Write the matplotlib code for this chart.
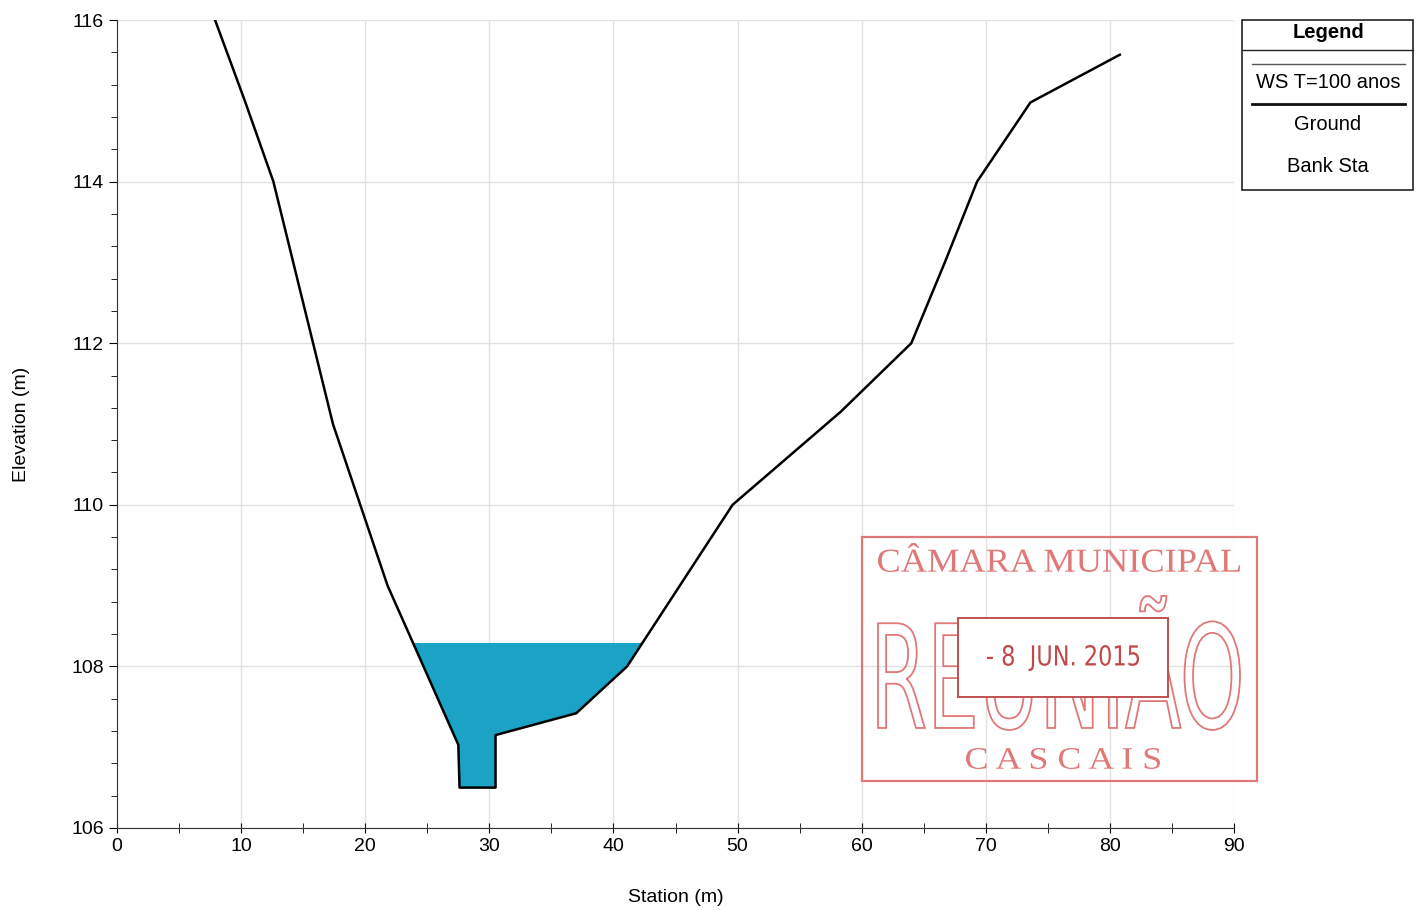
import numpy as np
import matplotlib
matplotlib.use("Agg")
import matplotlib.pyplot as plt
from matplotlib.patches import Rectangle, PathPatch
from matplotlib.textpath import TextPath
from matplotlib.font_manager import FontProperties
from matplotlib.transforms import Affine2D

plt.rcParams['font.family'] = ['Liberation Sans', 'DejaVu Sans']

# ground profile
station = [7.9, 10.3, 12.6, 17.4, 21.8, 27.5, 27.6, 30.5, 30.5, 37.0, 41.1,
           49.6, 58.3, 64.0, 66.7, 69.3, 73.6, 80.8]
elevation = [116.0, 115.0, 114.0, 111.0, 109.0, 107.03, 106.5, 106.5, 107.15,
             107.42, 108.0, 110.0, 111.15, 112.0, 113.0, 114.0, 114.98, 115.57]
ws_elev = 108.29  # WS T=100 anos

legend_items = ["WS T=100 anos", "Ground", "Bank Sta"]

W, H = 1423, 910


def fx(px):
    return px / W


def fy(py):
    return 1 - py / H


def water_polygon(x, z, ws):
    """Polygon of the wetted area below the water surface."""
    px, pz = [], []
    for i in range(len(x) - 1):
        x0, z0, x1, z1 = x[i], z[i], x[i + 1], z[i + 1]
        if z0 < ws:
            px.append(x0)
            pz.append(z0)
        if (z0 - ws) * (z1 - ws) < 0:
            t = (ws - z0) / (z1 - z0)
            px.append(x0 + t * (x1 - x0))
            pz.append(ws)
    return px, pz


def box_text(fig, s, left, right, top, bottom, family, filled=True, color='red', lw=1.0):
    # text squeezed/stretched into a pixel box (used for the stamp)
    tp = TextPath((0, 0), s, size=1, prop=FontProperties(family=family))
    ext = tp.get_extents()
    sx = (fx(right) - fx(left)) / ext.width
    sy = (fy(top) - fy(bottom)) / ext.height
    tr = Affine2D().translate(-ext.x0, -ext.y0).scale(sx, sy).translate(fx(left), fy(bottom))
    if filled:
        patch = PathPatch(tr.transform_path(tp), transform=fig.transFigure, fc=color, ec='none')
    else:
        patch = PathPatch(tr.transform_path(tp), transform=fig.transFigure, fc='none', ec=color, lw=lw)
    fig.patches.append(patch)


fig = plt.figure(figsize=(W / 100, H / 100), dpi=100)
ax = fig.add_axes([fx(117), fy(828), fx(1234) - fx(117), fy(20) - fy(828)])

wx, wz = water_polygon(station, elevation, ws_elev)
ax.fill(wx, wz, color='#1ba3c6', lw=0, zorder=2)
ax.plot(station, elevation, color='black', lw=1.8, zorder=3)

ax.set_xlim(0, 90)
ax.set_ylim(106, 116)
ax.set_xticks(np.arange(0, 91, 10))
ax.set_xticks(np.arange(5, 90, 10), minor=True)
ax.set_yticks(np.arange(106, 117, 2))
ax.set_yticks(np.arange(106, 116.01, 0.4), minor=True)
ax.grid(True, which='major', color='#e2e2e2', lw=1.0, zorder=0)
for s in ['top', 'right']:
    ax.spines[s].set_visible(False)
ax.spines['left'].set_color('#333333')
ax.spines['bottom'].set_color('#333333')
ax.tick_params(axis='x', which='both', direction='inout', length=7, labelsize=14)
ax.tick_params(axis='y', which='major', direction='out', length=6, labelsize=14)
ax.tick_params(axis='y', which='minor', direction='out', length=4)
ax.set_xlabel("Station (m)", fontsize=14)
ax.set_ylabel("Elevation (m)", fontsize=14)
ax.xaxis.set_label_coords(0.5, -0.075)
ax.yaxis.set_label_coords(-0.078, 0.5)

# legend box, HEC-RAS style
fig.patches.append(Rectangle((fx(1242), fy(190)), fx(1413) - fx(1242), fy(20) - fy(190),
                             transform=fig.transFigure, fill=False, ec='#222222', lw=1.2))
fig.add_artist(plt.Line2D([fx(1242), fx(1413)], [fy(50), fy(50)], transform=fig.transFigure,
                          color='#222222', lw=1.0))
fig.text(fx(1328), fy(33), "Legend", ha='center', va='center', fontsize=14.5, fontweight='bold')
fig.add_artist(plt.Line2D([fx(1252), fx(1405)], [fy(64), fy(64)], transform=fig.transFigure,
                          color='#555555', lw=1.0))
fig.add_artist(plt.Line2D([fx(1252), fx(1405)], [fy(104), fy(104)], transform=fig.transFigure,
                          color='#111111', lw=2.0))
for label, py in zip(legend_items, [82, 125, 167]):
    fig.text(fx(1328), fy(py), label, ha='center', va='center', fontsize=14.5)

# scanned stamp
red = '#e07878'
fig.patches.append(Rectangle((fx(862), fy(781)), fx(1257) - fx(862), fy(537) - fy(781),
                             transform=fig.transFigure, fill=False, ec=red, lw=1.6))
box_text(fig, "CÂMARA MUNICIPAL", 878, 1240, 543, 572, 'Liberation Serif', color=red)
box_text(fig, "C A S C A I S", 966, 1160, 748, 769, 'Liberation Serif', color=red)
box_text(fig, "REUNIÃO", 878, 1240, 596, 730, 'Liberation Sans Narrow', filled=False,
         color=red, lw=1.3)
fig.patches.append(Rectangle((fx(958), fy(697)), fx(1168) - fx(958), fy(618) - fy(697),
                             transform=fig.transFigure, fc='white', ec='#c05050', lw=1.4))
box_text(fig, "- 8  JUN. 2015", 987, 1139, 645, 671, 'Liberation Sans Narrow', color='#c04848')

fig.savefig("out.png", dpi=100)
